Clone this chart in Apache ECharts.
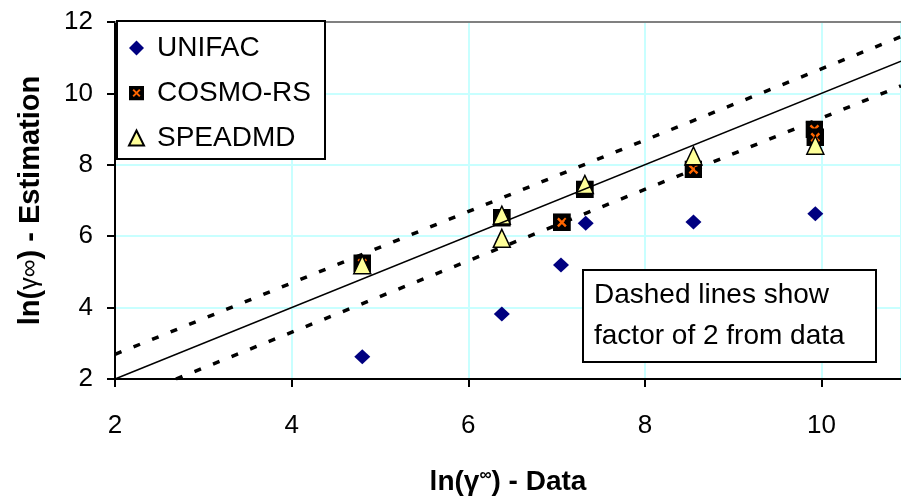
<!DOCTYPE html>
<html>
<head>
<meta charset="utf-8">
<script src="https://cdn.jsdelivr.net/npm/echarts@6/dist/echarts.min.js"></script>
<style>
  html, body { margin: 0; padding: 0; background: #fff; }
  #chart { width: 901px; height: 499px; }
</style>
</head>
<body>
<div id="chart"></div>
<script>
// points: [ln(gamma inf) data, estimation]
let unifac = [[4.8, 2.62], [6.38, 3.82], [7.05, 5.19], [7.33, 6.36], [8.55, 6.4], [9.93, 6.63]];
let cosmo = [[4.8, 5.24], [6.38, 6.52], [7.06, 6.39], [7.32, 7.31], [8.55, 7.87], [9.92, 8.99], [9.93, 8.77]];
let speadmd = [[4.8, 5.2], [6.38, 6.59], [6.38, 5.94], [7.32, 7.45], [8.55, 8.25], [9.93, 8.55]];

// parity line and factor-of-2 lines (ln 2 = 0.69 above / below)
let parity = [[2, 2], [10.9, 10.9]];
let upper = [[2, 2.69], [10.9, 11.59]];
let lower = [[2.69, 2], [10.9, 10.21]];

let xTicks = [2, 4, 6, 8, 10];
let yTicks = [2, 4, 6, 8, 10, 12];
let seriesNames = ['UNIFAC', 'COSMO-RS', 'SPEADMD'];

let font = 'Liberation Sans, Arial, sans-serif';

let cosmoSvg = "<svg xmlns='http://www.w3.org/2000/svg' width='18' height='18'>" +
  "<rect width='18' height='18' fill='black'/>" +
  "<path d='M5 5L13 13M13 5L5 13' stroke='#ff6600' stroke-width='2.4'/></svg>";
let cosmoSymbol = 'image://data:image/svg+xml;charset=utf-8,' + encodeURIComponent(cosmoSvg);

let chart = echarts.init(document.getElementById('chart'), null, { renderer: 'canvas' });

let option = {
  animation: false,
  backgroundColor: '#fff',
  textStyle: { fontFamily: font },
  grid: { left: 115, top: 22, right: 0, bottom: 120, containLabel: false, outerBoundsMode: 'none' },
  legend: {
    data: seriesNames,
    orient: 'vertical',
    left: 117,
    top: 21,
    backgroundColor: '#fff',
    borderColor: '#000',
    borderWidth: 2,
    padding: [12, 14, 6, 11],
    itemGap: 15,
    itemWidth: 15,
    itemHeight: 15,
    textStyle: { fontSize: 28, color: '#000', fontFamily: font, lineHeight: 30, padding: [0, 0, 0, 8] }
  },
  title: {
    text: 'Dashed lines show\nfactor of 2 from data',
    left: 583,
    top: 270,
    borderColor: '#000',
    borderWidth: 2,
    backgroundColor: '#fff',
    padding: [5, 32, 5, 11],
    textStyle: { fontSize: 28, fontWeight: 'normal', color: '#000', fontFamily: font, lineHeight: 41 }
  },
  xAxis: [{
    type: 'value',
    min: 2,
    max: 10.9,
    interval: 2,
    name: '{a|ln(γ}{s|∞}{a|) - Data}',
    nameLocation: 'middle',
    nameGap: 88,
    nameTextStyle: {
      rich: {
        a: { fontSize: 28, fontWeight: 'bold', color: '#000', fontFamily: font },
        s: { fontSize: 17, fontWeight: 'bold', color: '#000', fontFamily: font, padding: [0, 0, 13, 0] }
      }
    },
    axisLine: { onZero: false, lineStyle: { color: '#000', width: 2 } },
    axisTick: { show: true, length: 8, lineStyle: { color: '#000', width: 2 } },
    axisLabel: {
      fontSize: 26, color: '#000', margin: 34, showMaxLabel: false,
      formatter: function (v) { return xTicks.indexOf(v) >= 0 ? String(v) : ''; }
    },
    splitLine: { show: true, lineStyle: { color: '#c8ffff', width: 2 } }
  }, {
    type: 'value',
    position: 'top',
    min: 2,
    max: 10.9,
    axisLine: { show: true, onZero: false, lineStyle: { color: '#808080', width: 2 } },
    axisTick: { show: false },
    axisLabel: { show: false },
    splitLine: { show: false }
  }],
  yAxis: {
    type: 'value',
    min: 2,
    max: 12,
    interval: 2,
    name: '{a|ln(}{g|γ∞}{a|) - Estimation}',
    nameLocation: 'middle',
    nameRotate: 90,
    nameGap: 70,
    nameTextStyle: {
      rich: {
        a: { fontSize: 29, fontWeight: 'bold', color: '#000', fontFamily: font },
        g: { fontSize: 25, fontWeight: 'normal', color: '#000', fontFamily: font }
      }
    },
    axisLine: { onZero: false, lineStyle: { color: '#000', width: 2 } },
    axisTick: { show: true, length: 8, lineStyle: { color: '#000', width: 2 } },
    axisLabel: {
      fontSize: 26, color: '#000', margin: 22,
      formatter: function (v) { return yTicks.indexOf(v) >= 0 ? String(v) : ''; }
    },
    splitLine: { show: true, lineStyle: { color: '#c8ffff', width: 2 } }
  },
  series: [
    {
      name: 'parity', type: 'line', data: parity, symbol: 'none', silent: true,
      lineStyle: { color: '#000', width: 1.5 }
    },
    {
      name: 'upper', type: 'line', data: upper, symbol: 'none', silent: true,
      lineStyle: { color: '#000', width: 3.5, type: [7, 13] }
    },
    {
      name: 'lower', type: 'line', data: lower, symbol: 'none', silent: true,
      lineStyle: { color: '#000', width: 3.5, type: [7, 13] }
    },
    {
      name: 'UNIFAC', type: 'scatter', data: unifac,
      symbol: 'diamond', symbolSize: [16, 15],
      itemStyle: { color: '#000080', opacity: 1 }
    },
    {
      name: 'COSMO-RS', type: 'scatter', data: cosmo,
      symbol: cosmoSymbol, symbolSize: 18,
      itemStyle: { color: '#000', opacity: 1 }
    },
    {
      name: 'SPEADMD', type: 'scatter', data: speadmd,
      symbol: 'triangle', symbolSize: [17, 18],
      itemStyle: { color: '#ffff99', borderColor: '#000', borderWidth: 1.5, opacity: 1 }
    }
  ]
};

chart.setOption(option);
</script>
</body>
</html>
